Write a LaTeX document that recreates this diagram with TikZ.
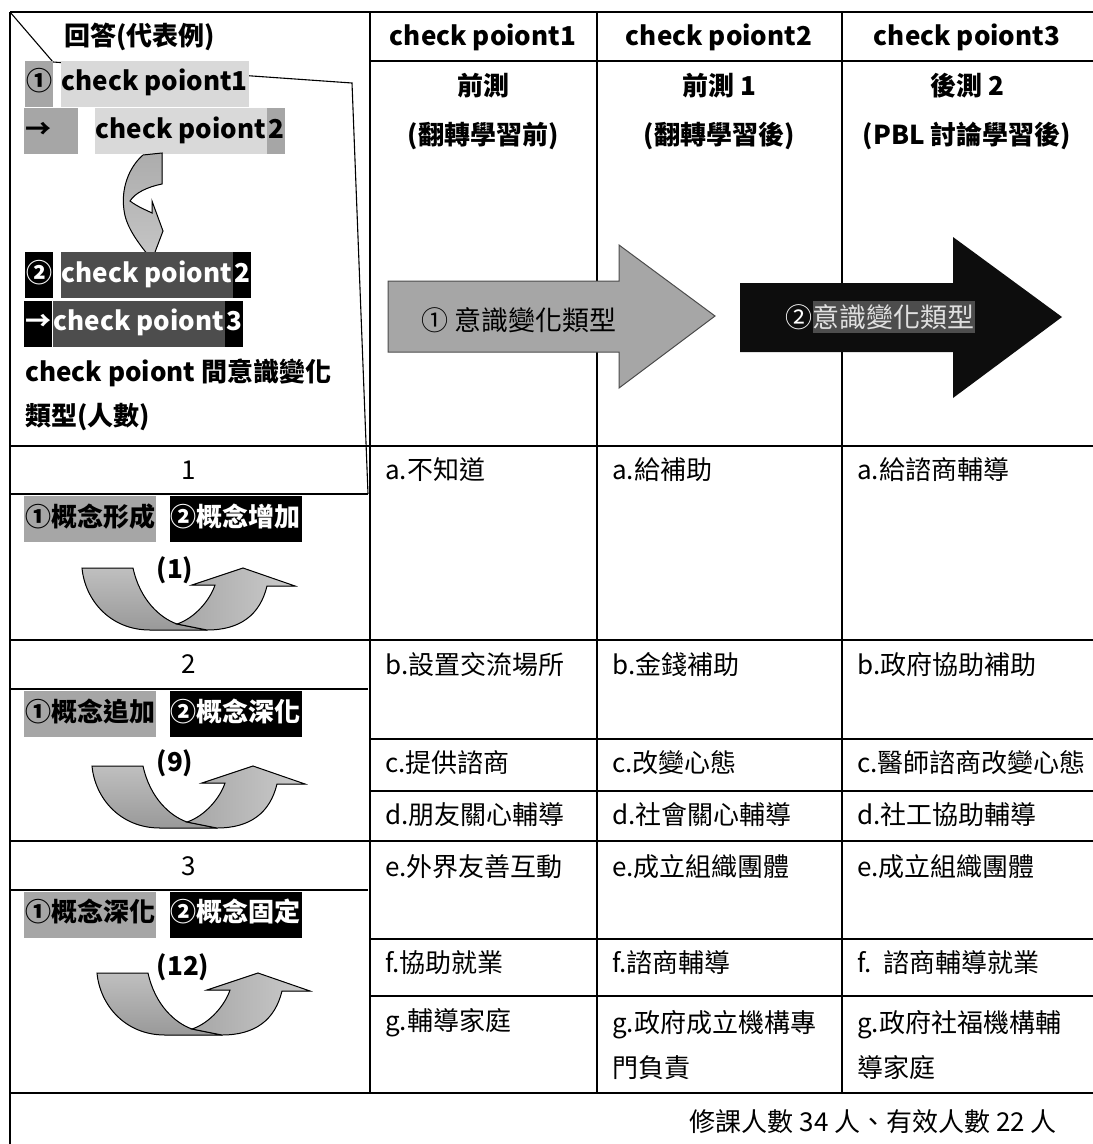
\documentclass[tikz,border=0pt]{standalone}
\usepackage{fontspec}
\setmainfont{Noto Sans CJK TC}
\usetikzlibrary{positioning}

\definecolor{markgray}{RGB}{166,166,166}
\definecolor{marklight}{RGB}{217,217,217}
\definecolor{markdark}{RGB}{77,77,77}

\tikzset{
  rule/.style={line width=1.8pt},
  cell/.style={anchor=west, inner sep=0pt, align=left, font=\fontsize{26}{45}\selectfont},
  head/.style={inner sep=0pt, font=\fontsize{26}{31}\selectfont\bfseries},
  num/.style={inner sep=0pt, font=\fontsize{26}{31}\selectfont},
  hilite/.style={fill=#1, anchor=west, inner xsep=1pt, inner ysep=0pt, minimum height=46pt,
    text height=20pt, text depth=6pt, font=\fontsize{26}{31}\selectfont\bfseries},
  uturn/.pic={
    \fill[top color=gray!50, bottom color=gray!80, draw=black, line width=1pt]
      (0,0) -- (51,0) .. controls (58,32) and (78,50) .. (95,56) -- (125,62) -- (68,62)
      .. controls (28,62) and (3,32) .. (0,0) -- cycle;
    \fill[left color=gray!70, right color=gray!40, draw=black, line width=1pt]
      (95,56) .. controls (113,50) and (128,32) .. (133,17) -- (110,17) -- (161,0)
      -- (213,18) -- (185,18) .. controls (178,47) and (158,62) .. (125,62) -- cycle;
  }
}

\begin{document}
\begin{tikzpicture}[x=1pt, y=-1pt]
\useasboundingbox (0,0) rectangle (1093,1144);

% table
\foreach \y in {12,446,640,841,1093} \draw[rule] (10,\y) -- (1093,\y);
\foreach \y in {494,689,890} \draw[rule] (10,\y) -- (368,\y);
\foreach \y in {61,739,791,939,996} \draw[rule] (370,\y) -- (1093,\y);
\draw[rule] (10,12) -- (10,1144);
\foreach \x in {370,597,842} \draw[rule] (\x,12) -- (\x,1093);
\draw[line width=1.1pt] (10,12) -- (53,62) -- (352,83) -- (368,494);

% header
\node[head] (hd0) at (140,37) {回答(代表例)};
\node[head] (hd1) at (483,37) {check poiont1};
\node[head] (hd2) at (719,37) {check poiont2};
\node[head] (hd3) at (967,37) {check poiont3};
\node[head] (sub1a) at (483,86) {前測};
\node[head] (sub1b) at (483,136) {(翻轉學習前)};
\node[head] (sub2a) at (719,86) {前測 1};
\node[head] (sub2b) at (719,136) {(翻轉學習後)};
\node[head] (sub3a) at (967,86) {後測 2};
\node[head] (sub3b) at (967,136) {(PBL 討論學習後)};

% big arrows
\fill[markgray, draw=black!70, line width=1pt]
  (388,281) -- (619,281) -- (619,245) -- (715,316) -- (619,388) -- (619,352) -- (388,352) -- cycle;
\fill[black!95]
  (740,283) -- (953,283) -- (953,237) -- (1062,317) -- (953,398) -- (953,352) -- (740,352) -- cycle;
\node[cell, font=\fontsize{27}{31}\selectfont] (ar1) at (421,320) {①\ 意識變化類型};
\node[cell, font=\fontsize{27}{31}\selectfont, text=white] (ar2a) at (785,317) {②};
\node[cell, font=\fontsize{27}{31}\selectfont, fill=markdark, text=white!88!black,
  inner ysep=3pt, right=0pt of ar2a] (ar2b) {意識變化類型};

% example answer
\node[hilite=markgray] (ex1a) at (25,83.5) {①};
\node[hilite=marklight, right=7pt of ex1a] (ex1b) {check poiont1};
\node[hilite=markgray, text width=52pt, align=left] (ex2a) at (24,131) {→};
\node[hilite=marklight, right=16pt of ex2a] (ex2b) {check poiont};
\node[hilite=markgray, right=0pt of ex2b] (ex2c) {2};
\fill[top color=gray!65, bottom color=gray!45, draw=black, line width=1pt]
  (143,155) -- (162,153) -- (162,184) .. controls (147,187) and (135,193) .. (130,201)
  .. controls (138,207) and (146,210) .. (152,213) -- (152,201) -- (163,231) -- (152,260)
  .. controls (140,245) and (126,228) .. (124,210) .. controls (121,190) and (128,168) .. (143,155) -- cycle;
\node[hilite=black, text=white] (ex3a) at (25,275) {②};
\node[hilite=markdark, text=white, right=7pt of ex3a] (ex3b) {check poiont};
\node[hilite=black, text=white, right=0pt of ex3b] (ex3c) {2};
\node[hilite=black, text=white] (ex4a) at (24,323.5) {→};
\node[hilite=markdark, text=white, right=0pt of ex4a] (ex4b) {check poiont};
\node[hilite=black, text=white, right=0pt of ex4b] (ex4c) {3};
\node[cell, font=\fontsize{26}{44}\selectfont\bfseries] (ex5) at (25,395) {check poiont 間意識變化\\類型(人數)};

% change types
\node[num] (ty1) at (189,470) {1};
\node[hilite=markgray] (ty1a) at (24,519) {①概念形成};
\node[hilite=black, text=white, right=13pt of ty1a] (ty1b) {②概念增加};
\pic at (82,568) {uturn};
\node[head] (cnt1) at (175,570) {(1)};

\node[num] (ty2) at (189,664) {2};
\node[hilite=markgray] (ty2a) at (24,714) {①概念追加};
\node[hilite=black, text=white, right=13pt of ty2a] (ty2b) {②概念深化};
\pic at (92,766) {uturn};
\node[head] (cnt2) at (175,763) {(9)};

\node[num] (ty3) at (189,866) {3};
\node[hilite=markgray] (ty3a) at (24,914.5) {①概念深化};
\node[hilite=black, text=white, right=13pt of ty3a] (ty3b) {②概念固定};
\pic at (97,973) {uturn};
\node[head] (cnt3) at (183,967) {(12)};

% answers
\node[cell] (a1) at (385,470) {a.不知道};
\node[cell] (a2) at (612,470) {a.給補助};
\node[cell] (a3) at (857,470) {a.給諮商輔導};
\node[cell] (b1) at (385,665) {b.設置交流場所};
\node[cell] (b2) at (612,665) {b.金錢補助};
\node[cell] (b3) at (857,665) {b.政府協助補助};
\node[cell] (c1) at (385,763) {c.提供諮商};
\node[cell] (c2) at (612,763) {c.改變心態};
\node[cell] (c3) at (857,763) {c.醫師諮商改變心態};
\node[cell] (d1) at (385,815) {d.朋友關心輔導};
\node[cell] (d2) at (612,815) {d.社會關心輔導};
\node[cell] (d3) at (857,815) {d.社工協助輔導};
\node[cell] (e1) at (385,867) {e.外界友善互動};
\node[cell] (e2) at (612,867) {e.成立組織團體};
\node[cell] (e3) at (857,867) {e.成立組織團體};
\node[cell] (f1) at (385,963) {f.協助就業};
\node[cell] (f2) at (612,963) {f.諮商輔導};
\node[cell] (f3) at (857,963) {f.\ \ 諮商輔導就業};
\node[cell] (g1) at (385,1023) {g.輔導家庭};
\node[cell] (g2) at (612,1045.5) {g.政府成立機構專\\門負責};
\node[cell] (g3) at (857,1045.5) {g.政府社福機構輔\\導家庭};

\node[cell, anchor=east] (total) at (1057,1122) {修課人數 34 人、有效人數 22 人};

\end{tikzpicture}
\end{document}
